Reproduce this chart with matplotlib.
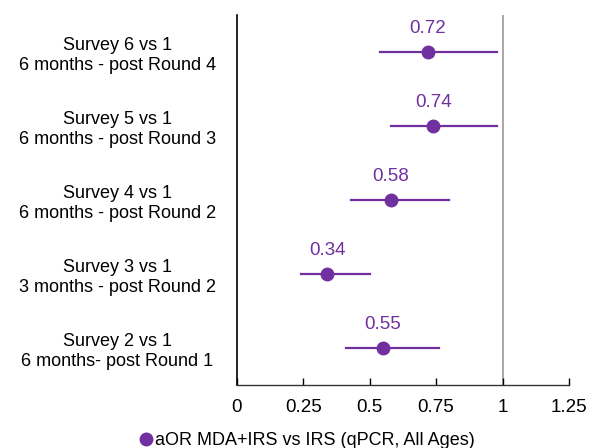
import matplotlib.pyplot as plt
from matplotlib.lines import Line2D

plt.rcParams['font.family'] = ['Liberation Sans', 'DejaVu Sans']

# comparisons, bottom to top
labels = ["Survey 2 vs 1\n6 months- post Round 1",
          "Survey 3 vs 1\n3 months - post Round 2",
          "Survey 4 vs 1\n6 months - post Round 2",
          "Survey 5 vs 1\n6 months - post Round 3",
          "Survey 6 vs 1\n6 months - post Round 4"]
aor = [0.55, 0.34, 0.58, 0.74, 0.72]
ci_low = [0.41, 0.24, 0.43, 0.58, 0.54]
ci_high = [0.76, 0.50, 0.80, 0.98, 0.98]

purple = '#7030A0'

fig = plt.figure(figsize=(5.89, 4.48), dpi=100)
ax = fig.add_axes([0.402, 0.1406, 0.564, 0.826])

ypos = [i + 0.5 for i in range(len(labels))]
for y, v, lo, hi in zip(ypos, aor, ci_low, ci_high):
    ax.plot([lo, hi], [y, y], color=purple, lw=1.6, zorder=2)
    ax.plot(v, y, 'o', color=purple, ms=9, zorder=3)
    ax.text(v, y + 0.2, f"{v:.2f}", color=purple, fontsize=13.5,
            ha='center', va='bottom')

ax.axvline(1, color='#999999', lw=1.2, zorder=1)

ax.set_xlim(0, 1.25)
ax.set_ylim(0, 5)
ax.set_xticks([0, 0.25, 0.5, 0.75, 1, 1.25])
ax.set_xticklabels(['0', '0.25', '0.5', '0.75', '1', '1.25'], fontsize=13.5)
ax.set_yticks(ypos)
ax.set_yticklabels(labels, fontsize=13, ha='center', linespacing=1.2)
ax.tick_params(axis='y', length=0, pad=86)
ax.tick_params(axis='x', direction='in', length=5, width=1, pad=10)
for s in ['top', 'right']:
    ax.spines[s].set_visible(False)
ax.spines['left'].set_linewidth(1.2)
ax.spines['bottom'].set_linewidth(1)
ax.spines['bottom'].set_color('#333333')

handle = Line2D([], [], marker='o', color=purple, ls='none', ms=9)
fig.legend([handle], ['aOR MDA+IRS vs IRS (qPCR, All Ages)'], loc='center',
           bbox_to_anchor=(0.52, 0.016), frameon=False, fontsize=13,
           handletextpad=0.0, handlelength=1.0)

fig.savefig('out.png', dpi=100)
